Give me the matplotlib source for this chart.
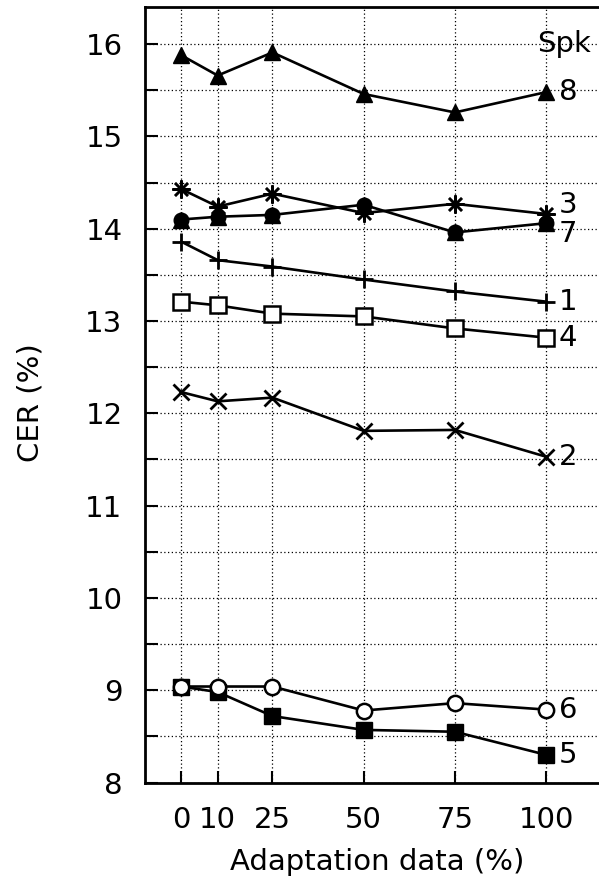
import matplotlib
import numpy as np

matplotlib.use("Agg")
import matplotlib.pyplot as plt

plt.rcParams["font.family"] = ["DejaVu Sans"]

adapt_pct = [0, 10, 25, 50, 75, 100]

spk1 = [13.86, 13.66, 13.59, 13.45, 13.32, 13.21]
spk2 = [12.23, 12.13, 12.17, 11.81, 11.82, 11.53]
spk3 = [14.43, 14.24, 14.38, 14.17, 14.27, 14.16]
spk4 = [13.21, 13.17, 13.08, 13.05, 12.92, 12.82]
spk5 = [9.04, 8.98, 8.72, 8.57, 8.55, 8.30]
spk6 = [9.04, 9.04, 9.04, 8.78, 8.86, 8.79]
spk7 = [14.10, 14.13, 14.15, 14.26, 13.96, 14.06]
spk8 = [15.88, 15.66, 15.91, 15.46, 15.26, 15.48]

speaker_names = ["1", "2", "3", "4", "5", "6", "7", "8"]
y_ticks = [8, 9, 10, 11, 12, 13, 14, 15, 16]

series = [spk1, spk2, spk3, spk4, spk5, spk6, spk7, spk8]
# marker style per speaker (gnuplot-like point types)
styles = [
    dict(marker="+", ms=13, mew=2.0),
    dict(marker="x", ms=11, mew=2.0),
    dict(marker=(8, 2, 0), ms=13, mew=1.8),
    dict(marker="s", ms=11, mfc="white", mew=1.8),
    dict(marker="s", ms=11, mfc="black", mew=1.0),
    dict(marker="o", ms=11, mfc="white", mew=1.8),
    dict(marker="o", ms=10.5, mfc="black", mew=1.0),
    dict(marker="^", ms=11, mfc="black", mew=1.0),
]
# nudge for end labels that would collide
label_nudge = {"3": 0.10, "7": -0.12}

fig = plt.figure(figsize=(5.99, 8.81), dpi=100)
ax = fig.add_axes([0.2416, 0.1118, 0.7584, 0.88])

for name, values, st in zip(speaker_names, series, styles):
    ax.plot(adapt_pct, values, color="black", lw=1.9, mec="black", zorder=3, **st)
    if name == "7":
        ax.plot(adapt_pct, values, ls="none", marker="^", ms=11.5, color="black", zorder=3)
    ax.text(103.5, values[-1] + label_nudge.get(name, 0.0), name,
            fontsize=21, ha="left", va="center")

ax.text(97.5, 16.0, "Spk", fontsize=21, ha="left", va="center")

ax.set_xlim(-10, 114.5)
ax.set_ylim(8, 16.4)
ax.set_xticks(adapt_pct)
ax.set_yticks(y_ticks)
ax.set_yticks(np.arange(8.5, 16.4, 1.0), minor=True)
ax.tick_params(axis="both", which="both", direction="in", length=9, width=1.5,
               labelsize=21, top=False, right=False)
ax.tick_params(axis="y", pad=16)
ax.tick_params(axis="x", pad=17)
ax.grid(True, which="both", ls=(0, (1, 2)), color="black", lw=0.9)
ax.set_axisbelow(True)

for side in ["left", "bottom", "top"]:
    ax.spines[side].set_linewidth(2.0)
ax.spines["right"].set_visible(False)

ax.set_xlabel("Adaptation data (%)", fontsize=21, va="center")
ax.set_ylabel("CER (%)", fontsize=21, va="center")
ax.xaxis.set_label_coords(0.512, -0.1025)
ax.yaxis.set_label_coords(-0.2525, 0.49)

fig.savefig("out.png", dpi=100)
